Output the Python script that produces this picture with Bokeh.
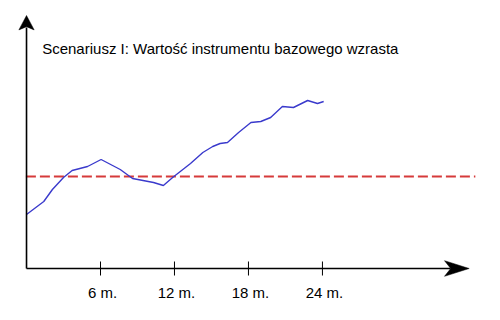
from bokeh.plotting import figure
from bokeh.models import Range1d, ColumnDataSource
from bokeh.core.properties import value
from bokeh.embed import file_html
from bokeh.resources import INLINE

# --- data ---
months = [0, 1.4, 2.1, 3.0, 3.7, 4.95, 6.05, 7.6, 8.6, 10.3, 11.1, 11.85,
          13.3, 14.3, 15.1, 15.7, 16.3, 17.2, 18.2, 19.0, 19.8, 20.75,
          21.65, 22.8, 23.6, 24.1]
values = [81, 87.5, 93.5, 99.5, 103, 105, 108.5, 103.5, 99, 97, 95.5, 99.5,
          106.5, 112, 115, 116.5, 117, 122, 127, 127.5, 129.5, 135,
          134.5, 138, 136.5, 137.5]
baseline = 100
tick_months = [6, 12, 18, 24]
tick_labels = ["6 m.", "12 m.", "18 m.", "24 m."]
title_text = "Scenariusz I: Wartość instrumentu bazowego wzrasta"

# axis extents (data units)
y_axis_bottom = 54
y_axis_top = 180.5
x_axis_end = 35.9
dash_end = 36.4

p = figure(width=500, height=320, output_backend="svg", toolbar_location=None,
           x_range=Range1d(-2.11, 38.44), y_range=Range1d(28, 188),
           min_border=0)
p.axis.visible = False
p.grid.visible = False
p.outline_line_color = None
p.background_fill_color = "white"
p.border_fill_color = "white"

# baseline dashed line
p.line([-0.05, dash_end], [baseline, baseline], line_color="#d63a3a",
       line_width=2, line_dash="10 4")

# value line
p.line(months, values, line_color="#3a3acc", line_width=1.4)

# axes
p.line([0, x_axis_end - 1.5], [y_axis_bottom, y_axis_bottom], line_color="black", line_width=1.6)
p.line([0, 0], [y_axis_bottom, y_axis_top - 6], line_color="black", line_width=1.6)
# arrow heads
p.patch([x_axis_end, x_axis_end - 2.0, x_axis_end - 1.5, x_axis_end - 2.0],
        [y_axis_bottom, y_axis_bottom + 3.9, y_axis_bottom, y_axis_bottom - 3.9],
        fill_color="black", line_color="black", line_width=0.5)
p.patch([0, -0.62, 0, 0.62],
        [y_axis_top, y_axis_top - 7.2, y_axis_top - 5.6, y_axis_top - 7.2],
        fill_color="black", line_color="black", line_width=0.5)

# ticks
p.segment(x0=tick_months, y0=[57.5] * len(tick_months), x1=tick_months,
          y1=[50.5] * len(tick_months), line_color="black", line_width=1)

src = ColumnDataSource(dict(x=tick_months, y=[42] * len(tick_months), t=tick_labels))
p.text(x="x", y="y", text="t", source=src, text_align="center",
       text_baseline="alphabetic", text_font=value("Liberation Sans"),
       text_font_size="15px", text_color="black", x_offset=2)

p.text(x=[1.27], y=[164], text=[title_text], text_align="left",
       text_baseline="alphabetic", text_font=value("Liberation Sans"),
       text_font_size="15px", text_color="black")

open("out.html", "w").write(file_html(p, INLINE))
